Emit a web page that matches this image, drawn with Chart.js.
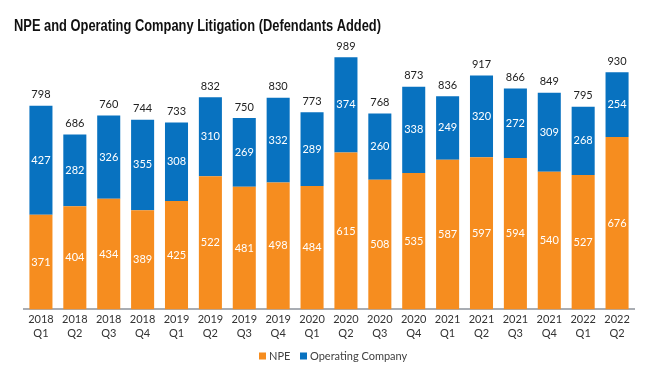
<!DOCTYPE html>
<html>
<head>
<meta charset="utf-8">
<script src="https://cdn.jsdelivr.net/npm/chart.js@4.4.1/dist/chart.umd.min.js"></script>
<style>
  html, body { margin: 0; padding: 0; background: #ffffff; }
  #wrap { width: 647px; height: 378px; position: relative; }
</style>
</head>
<body>
<div id="wrap"><canvas id="c" width="647" height="378"></canvas></div>
<script>
const categories = [
  ["2018","Q1"],["2018","Q2"],["2018","Q3"],["2018","Q4"],
  ["2019","Q1"],["2019","Q2"],["2019","Q3"],["2019","Q4"],
  ["2020","Q1"],["2020","Q2"],["2020","Q3"],["2020","Q4"],
  ["2021","Q1"],["2021","Q2"],["2021","Q3"],["2021","Q4"],
  ["2022","Q1"],["2022","Q2"]
];
const npeValues = [371,404,434,389,425,522,481,498,484,615,508,535,587,597,594,540,527,676];
const operatingValues = [427,282,326,355,308,310,269,332,289,374,260,338,249,320,272,309,268,254];
const seriesNames = ["NPE", "Operating Company"];
const chartTitle = "NPE and Operating Company Litigation (Defendants Added)";

const ORANGE = "#F68D1F";
const BLUE = "#0872C0";
const numFont = "Lato, 'Open Sans', sans-serif";

const labelPlugin = {
  id: "valueLabels",
  afterDatasetsDraw(chart) {
    const ctx = chart.ctx;
    ctx.save();
    ctx.textAlign = "center";
    ctx.textBaseline = "middle";
    ctx.font = "11px " + numFont;
    chart.data.datasets.forEach((ds, di) => {
      const meta = chart.getDatasetMeta(di);
      meta.data.forEach((bar, i) => {
        ctx.fillStyle = "#ffffff";
        ctx.fillText(String(ds.data[i]), bar.x, (bar.y + bar.base) / 2);
      });
    });
    const topMeta = chart.getDatasetMeta(chart.data.datasets.length - 1);
    topMeta.data.forEach((bar, i) => {
      const total = chart.data.datasets.reduce((s, ds) => s + ds.data[i], 0);
      ctx.fillStyle = "#222222";
      ctx.fillText(String(total), bar.x, bar.y - 11);
    });
    ctx.restore();
  }
};

const titleLegendPlugin = {
  id: "titleLegend",
  afterDraw(chart) {
    const ctx = chart.ctx;
    ctx.save();
    ctx.font = "bold 16px 'Liberation Sans', Arial, sans-serif";
    ctx.fillStyle = "#111111";
    ctx.textBaseline = "middle";
    ctx.textAlign = "left";
    const w = ctx.measureText(chartTitle).width;
    const targetW = 367;
    ctx.translate(14, 27);
    ctx.scale(targetW / w, 1);
    ctx.fillText(chartTitle, 0, 0);
    ctx.restore();

    ctx.save();
    ctx.font = "11px " + numFont;
    ctx.textBaseline = "middle";
    ctx.textAlign = "left";
    const items = [
      { x: 259, color: chart.data.datasets[0].backgroundColor, text: chart.data.datasets[0].label },
      { x: 300, color: chart.data.datasets[1].backgroundColor, text: chart.data.datasets[1].label }
    ];
    const cy = 356;
    items.forEach(it => {
      ctx.fillStyle = it.color;
      ctx.fillRect(it.x, cy - 3.5, 7, 7);
      ctx.fillStyle = "#404040";
      ctx.fillText(it.text, it.x + 10, cy);
    });
    ctx.restore();
  }
};

new Chart(document.getElementById("c"), {
  type: "bar",
  data: {
    labels: categories,
    datasets: [
      { label: seriesNames[0], data: npeValues, backgroundColor: ORANGE, borderWidth: 0 },
      { label: seriesNames[1], data: operatingValues, backgroundColor: BLUE, borderWidth: 0 }
    ]
  },
  options: {
    responsive: false,
    animation: false,
    layout: { padding: { left: 14, right: 13, top: 41.6, bottom: 34 } },
    datasets: { bar: { barPercentage: 0.68, categoryPercentage: 1.0 } },
    scales: {
      x: {
        stacked: true,
        grid: { display: false, drawTicks: false },
        border: { display: true, color: "#A9ADB3", width: 2 },
        ticks: { color: "#333333", font: { family: numFont, size: 11, lineHeight: 1.3 }, padding: 3, maxRotation: 0, autoSkip: false }
      },
      y: {
        stacked: true,
        min: 0,
        max: 1050,
        display: true,
        grid: { display: false, drawTicks: false },
        border: { display: false },
        ticks: { display: false },
        afterFit(scale) { scale.width = 10; }
      }
    },
    plugins: {
      title: { display: false },
      legend: { display: false },
      tooltip: { enabled: false }
    }
  },
  plugins: [labelPlugin, titleLegendPlugin]
});
</script>
</body>
</html>
